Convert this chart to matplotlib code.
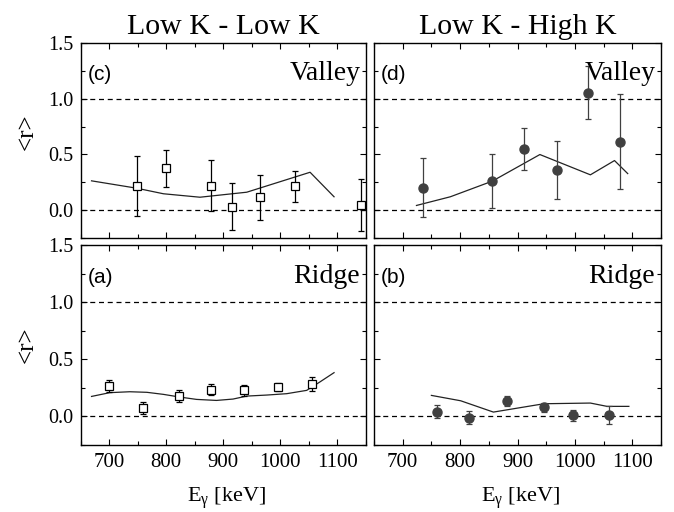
import matplotlib
matplotlib.use('Agg')
import matplotlib.pyplot as plt
from matplotlib.ticker import MultipleLocator, FormatStrFormatter

plt.rcParams['font.family'] = 'Liberation Serif'
plt.rcParams['mathtext.fontset'] = 'custom'
plt.rcParams['mathtext.rm'] = 'Liberation Serif'
plt.rcParams['mathtext.it'] = 'Liberation Serif:italic'

# (c) Low K - Low K, valley
c_e = [748, 799, 878, 915, 964, 1025, 1142]
c_r = [0.22, 0.375, 0.22, 0.03, 0.115, 0.215, 0.045]
c_err = [0.27, 0.165, 0.23, 0.21, 0.20, 0.14, 0.235]
c_fit_e = [669, 748, 795, 859, 941, 1052, 1094]
c_fit_r = [0.263, 0.197, 0.147, 0.116, 0.161, 0.340, 0.120]

# (d) Low K - High K, valley
d_e = [736, 856, 912, 968, 1023, 1079]
d_r = [0.20, 0.26, 0.55, 0.36, 1.055, 0.615]
d_err = [0.265, 0.24, 0.19, 0.26, 0.235, 0.425]
d_fit_e = [724, 783, 856, 939, 1027, 1069, 1092]
d_fit_r = [0.042, 0.12, 0.26, 0.499, 0.317, 0.445, 0.328]

# (a) Low K - Low K, ridge
a_e = [699, 760, 823, 878, 936, 996, 1056]
a_r = [0.268, 0.073, 0.176, 0.235, 0.229, 0.258, 0.283]
a_err = [0.052, 0.052, 0.054, 0.047, 0.046, 0.036, 0.062]
a_fit_e = [669, 701, 736, 766, 795, 823, 853, 888, 917, 941, 976, 1011, 1046, 1069, 1094]
a_fit_r = [0.175, 0.208, 0.216, 0.211, 0.193, 0.170, 0.149, 0.140, 0.152, 0.178,
           0.187, 0.199, 0.228, 0.301, 0.383]

# (b) Low K - High K, ridge
b_e = [760, 815, 881, 946, 996, 1060]
b_r = [0.042, -0.011, 0.138, 0.079, 0.009, 0.012]
b_err = [0.058, 0.055, 0.043, 0.042, 0.047, 0.082]
b_fit_e = [750, 801, 858, 946, 1027, 1056, 1094]
b_fit_r = [0.184, 0.137, 0.038, 0.111, 0.117, 0.088, 0.088]

W, H = 674, 512
fig = plt.figure(figsize=(W / 100, H / 100), dpi=100)


def panel(x0, x1, ytop, ybot):
    ax = fig.add_axes([x0 / W, 1 - ybot / H, (x1 - x0) / W, (ybot - ytop) / H])
    ax.set_xlim(650, 1150)
    ax.set_ylim(-0.25, 1.5)
    ax.xaxis.set_major_locator(MultipleLocator(100))
    ax.xaxis.set_minor_locator(MultipleLocator(50))
    ax.yaxis.set_major_locator(MultipleLocator(0.5))
    ax.yaxis.set_minor_locator(MultipleLocator(0.25))
    ax.yaxis.set_major_formatter(FormatStrFormatter('%.1f'))
    ax.tick_params(which='both', direction='in', top=True, right=True, width=0.8)
    ax.tick_params(which='major', length=4.5)
    ax.tick_params(which='minor', length=3)
    ax.tick_params(axis='x', labelsize=15, pad=6)
    ax.tick_params(axis='y', labelsize=14.5, pad=5)
    for s in ax.spines.values():
        s.set_linewidth(1.0)
    for yv in (0.0, 1.0):
        ax.axhline(yv, color='black', ls=(0, (4, 3)), lw=0.9, zorder=1)
    return ax


ax_c = panel(80.7, 366, 43, 238)
ax_d = panel(374, 661, 43, 238)
ax_a = panel(80.7, 366, 245, 445)
ax_b = panel(374, 661, 245, 445)

for ax in (ax_c, ax_d):
    ax.tick_params(axis='x', labelbottom=False)
for ax in (ax_d, ax_b):
    ax.tick_params(axis='y', labelleft=False)

sq = dict(fmt='s', ms=6, mfc='white', mec='black', mew=0.9, ecolor='black',
          elinewidth=0.9, capsize=2, capthick=0.9, zorder=3)
dot = dict(fmt='o', ms=6.5, color='#404040', ecolor='#404040',
           elinewidth=0.9, capsize=2, capthick=0.9, zorder=3)

ax_c.plot(c_fit_e, c_fit_r, color='#222222', lw=0.9, zorder=2)
ax_c.errorbar(c_e, c_r, yerr=c_err, **sq)
ax_d.plot(d_fit_e, d_fit_r, color='#222222', lw=0.9, zorder=2)
ax_d.errorbar(d_e, d_r, yerr=d_err, **dot)
ax_a.plot(a_fit_e, a_fit_r, color='#222222', lw=0.9, zorder=2)
ax_a.errorbar(a_e, a_r, yerr=a_err, **sq)
ax_b.plot(b_fit_e, b_fit_r, color='#222222', lw=0.9, zorder=2)
ax_b.errorbar(b_e, b_r, yerr=b_err, **dot)

labels = [(ax_c, '(c)', 'Valley'), (ax_d, '(d)', 'Valley'),
          (ax_a, '(a)', 'Ridge'), (ax_b, '(b)', 'Ridge')]
for ax, tag, name in labels:
    ax.text(0.024, 0.81, tag, transform=ax.transAxes, family='Liberation Sans',
            fontsize=15, va='baseline', ha='left', zorder=4)
    ax.text(0.98, 0.81, name, transform=ax.transAxes, fontsize=20,
            va='baseline', ha='right', zorder=4)

fig.text(223.4 / W, 1 - 33.5 / H, 'Low K - Low K', fontsize=21.5, ha='center', va='baseline')
fig.text(517.5 / W, 1 - 33.5 / H, 'Low K - High K', fontsize=21.5, ha='center', va='baseline')

fig.text(26.7 / W, 1 - 132 / H, '<r>', fontsize=18, rotation=90, ha='center', va='center')
fig.text(26.7 / W, 1 - 345 / H, '<r>', fontsize=18, rotation=90, ha='center', va='center')

fig.text(226.7 / W, 1 - 502 / H, r'E$_\mathrm{\gamma}$ [keV]', fontsize=16, ha='center', va='baseline')
fig.text(520.8 / W, 1 - 502 / H, r'E$_\mathrm{\gamma}$ [keV]', fontsize=16, ha='center', va='baseline')

fig.savefig('out.png', dpi=100)
